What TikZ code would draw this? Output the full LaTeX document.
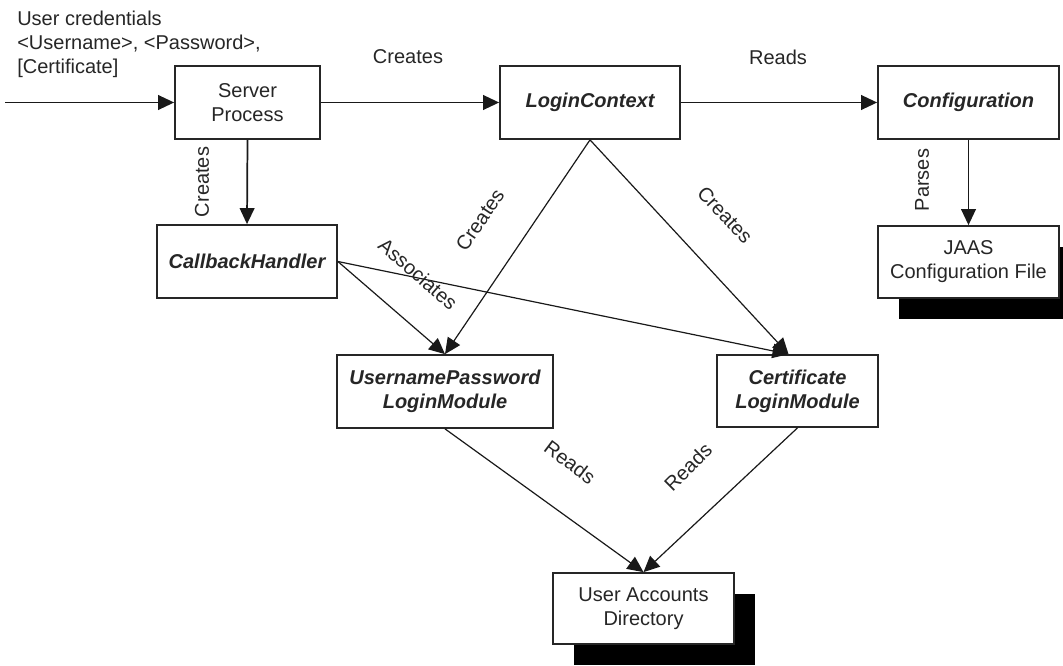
\documentclass[tikz,border=0pt]{standalone}
\usepackage{fontspec}
\setmainfont{Liberation Sans}
\usetikzlibrary{arrows.meta,shadows}

\begin{document}
\begin{tikzpicture}[x=0.75pt,y=-0.75pt,
  txt/.style={font=\fontsize{15}{18}\selectfont, text=black!85},
  box/.style={txt, draw=black!85, line width=1.3pt, fill=white, inner sep=0pt,
    align=center, minimum height=54.75pt},
  cls/.style={box, font=\fontsize{15}{18}\selectfont\bfseries\itshape},
  store/.style={box, drop shadow={shadow xshift=16pt, shadow yshift=-16pt,
    opacity=1, fill=black}},
  lbl/.style={txt, inner sep=0pt},
  link/.style={line width=1.3pt, black!90, -{Triangle[length=12pt,width=11pt]}},
  slant/.style={line width=0.9pt, black!90, -{Triangle[length=12pt,width=11pt]}},
]
\useasboundingbox (0,0) rectangle (1063,666);

% components
\node[box, minimum width=108.75pt] (sp) at (247.5,102.5) {Server\\Process};
\node[cls, minimum width=135pt] (lc) at (590,102.5) {LoginContext};
\node[cls, minimum width=135.75pt] (cfg) at (968.5,102.5) {Configuration};
\node[store, minimum width=135.75pt, minimum height=54pt] (jaas) at (968.5,262) {JAAS\\Configuration File};
\node[cls, minimum width=135pt] (cb) at (247,261.5) {CallbackHandler};
\node[cls, minimum width=162pt] (up) at (445,391.5) {UsernamePassword\\LoginModule};
\node[cls, minimum width=120.75pt, minimum height=54pt] (cert) at (797.5,391) {Certificate\\LoginModule};
\node[store, minimum width=135.75pt, minimum height=53.25pt] (uad) at (643.5,608.5) {User Accounts\\Directory};

% incoming credentials
\coordinate (src) at (5,102.5);
\node[lbl, align=left, anchor=north west] (cred) at (17,10.5)
  {User credentials\\{<}Username{>}, {<}Password{>},\\{[}Certificate{]}};

% certificate module entry point
\coordinate (certin) at ([xshift=-6.75pt]cert.north);

% connectors
\draw[link] (src) -- (sp.west);
\draw[link] (sp.east) -- (lc.west);
\draw[link] (lc.east) -- (cfg.west);
\draw[link] (sp.south) -- (cb.north);
\draw[link] (cfg.south) -- (jaas.north);
\draw[slant] (lc.south) -- (up.north);
\draw[slant] (lc.south) -- (certin);
\draw[slant] (cb.east) -- (up.north);
\draw[slant] (cb.east) -- (certin);
\draw[slant] (up.south) -- (uad.north);
\draw[slant] (cert.south) -- (uad.north);

% connector labels
\node[lbl] (l1) at (408,57) {Creates};
\node[lbl] (l2) at (778,57) {Reads};
\node[lbl, rotate=90] (l3) at (202,182) {Creates};
\node[lbl, rotate=90] (l4) at (922,180) {Parses};
\node[lbl, rotate=56] (l5) at (480,220) {Creates};
\node[lbl, rotate=-47] (l6) at (725,215) {Creates};
\node[lbl, rotate=-41] (l7) at (418,274) {Associates};
\node[lbl, rotate=-37] (l8) at (570,462) {Reads};
\node[lbl, rotate=45] (l9) at (688,467) {Reads};
\end{tikzpicture}
\end{document}
